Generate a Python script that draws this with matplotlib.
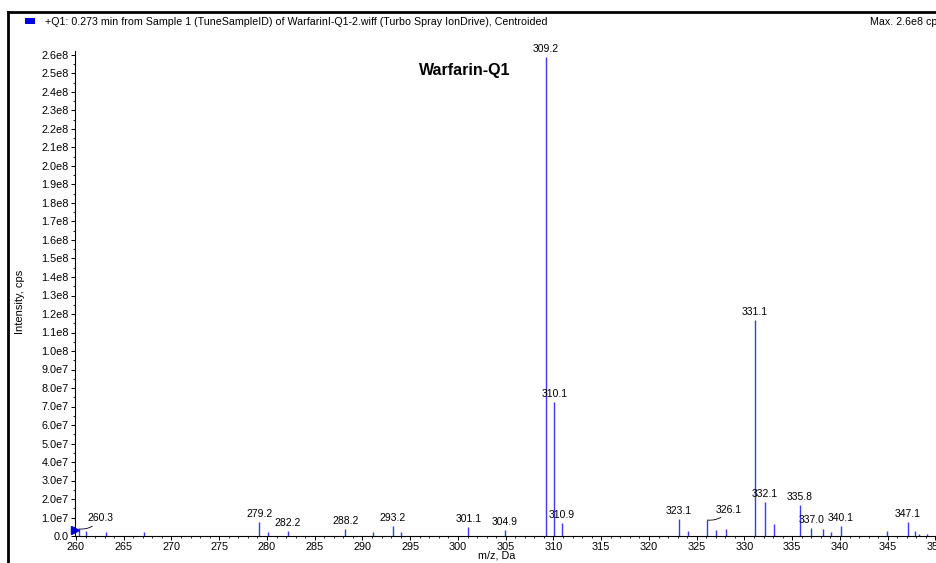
import numpy as np
import matplotlib
matplotlib.use('Agg')
import matplotlib.pyplot as plt
from matplotlib.lines import Line2D
from matplotlib.patches import Rectangle
from matplotlib.ticker import MultipleLocator, FuncFormatter

# centroided peaks, m/z and intensity (cps)
mz = [260.3, 261.1, 263.1, 267.1, 279.2, 280.1, 282.2, 288.2, 291.1, 293.2,
      294.0, 301.1, 304.9, 309.2, 310.1, 310.9, 323.1, 324.1, 326.1, 327.0,
      328.1, 331.1, 332.1, 333.1, 335.8, 337.0, 338.2, 339.1, 340.1, 344.9,
      347.1, 347.9, 348.3, 349.1]
intensity = [3.8e6, 2.9e6, 2.3e6, 2.0e6, 7.7e6, 2.3e6, 2.9e6, 4.0e6, 2.3e6, 5.4e6,
             2.3e6, 5.0e6, 3.2e6, 2.59e8, 7.24e7, 7.2e6, 9.2e6, 2.7e6, 8.6e6, 3.2e6,
             3.6e6, 1.17e8, 1.85e7, 6.5e6, 1.68e7, 4.2e6, 3.6e6, 2.0e6, 5.4e6, 2.7e6,
             7.7e6, 2.7e6, 1.0e6, 1.3e6]
labelled = ['260.3', '279.2', '282.2', '288.2', '293.2', '301.1', '304.9', '309.2',
            '310.1', '310.9', '323.1', '326.1', '331.1', '332.1', '335.8', '337.0',
            '340.1', '347.1']
leader = ['260.3', '326.1']

header = '+Q1: 0.273 min from Sample 1 (TuneSampleID) of WarfarinI-Q1-2.wiff (Turbo Spray IonDrive), Centroided'
maxtxt = 'Max. 2.6e8 cps'

plt.rcParams['font.family'] = ['Liberation Sans', 'DejaVu Sans']
W, H = 937, 563
fig = plt.figure(figsize=(W / 100, H / 100), dpi=100)
# x axis runs past the right edge of the picture, like the reference
ax = fig.add_axes([75 / W, 1 - 536 / H, 871 / W, 484.7 / H])

blue = '#3a3aff'
ax.vlines(mz, 0, intensity, color=blue, lw=1.0)
ax.plot([259.95], [3.2e6], marker='>', color='#0000e0', ms=6, clip_on=False)

for m, v in zip(mz, intensity):
    s = '%.1f' % m
    if s not in labelled:
        continue
    if s in leader:
        ax.annotate(s, (m, v), xytext=(6, 4), textcoords='offset points',
                    ha='left', va='bottom', fontsize=7.5,
                    arrowprops=dict(arrowstyle='-', color='black', lw=0.6,
                                    connectionstyle='arc3,rad=-0.3',
                                    shrinkA=0, shrinkB=0))
    else:
        ax.annotate(s, (m, v), xytext=(0, 2), textcoords='offset points',
                    ha='center', va='bottom', fontsize=7.5)

ax.set_xlim(259.9, 351.1)
ax.set_ylim(0, 2.62e8)
ax.xaxis.set_major_locator(MultipleLocator(5))
ax.xaxis.set_minor_locator(MultipleLocator(1))
ax.yaxis.set_major_locator(MultipleLocator(1e7))
ax.yaxis.set_minor_locator(MultipleLocator(5e6))


def yfmt(v, pos):
    if v < 0.5e7:
        return '0.0'
    if v < 0.95e8:
        return '%.1fe7' % (v / 1e7)
    return '%.1fe8' % (v / 1e8)


ax.yaxis.set_major_formatter(FuncFormatter(yfmt))
ax.tick_params(axis='both', which='major', labelsize=7.8, length=3, width=0.7, pad=1.5)
ax.tick_params(axis='both', which='minor', length=1.5, width=0.6)
for sp in ['top', 'right']:
    ax.spines[sp].set_visible(False)
for sp in ['left', 'bottom']:
    ax.spines[sp].set_linewidth(0.8)

fig.text(497 / W, 1 - 556 / H, 'm/z, Da', ha='center', va='center', fontsize=7.8)
fig.text(20 / W, 1 - 302 / H, 'Intensity, cps', rotation=90, ha='center', va='center', fontsize=8)
fig.text(465 / W, 1 - 71 / H, 'Warfarin-Q1', ha='center', va='center', fontsize=11.5, fontweight='bold')
fig.text(45 / W, 1 - 22 / H, header, ha='left', va='center', fontsize=7.7)
fig.text(870 / W, 1 - 22 / H, maxtxt, ha='left', va='center', fontsize=7.7)

fig.add_artist(Rectangle((25 / W, 1 - 24 / H), 10 / W, 6 / H, transform=fig.transFigure,
                         facecolor='#0000e0', edgecolor='none'))
fig.add_artist(Line2D([8 / W, 1], [1 - 12 / H, 1 - 12 / H], transform=fig.transFigure,
                      color='black', lw=2))
fig.add_artist(Line2D([8 / W, 8 / W], [1 - 12 / H, 0], transform=fig.transFigure,
                      color='black', lw=2))

fig.savefig('out.png', dpi=100)
